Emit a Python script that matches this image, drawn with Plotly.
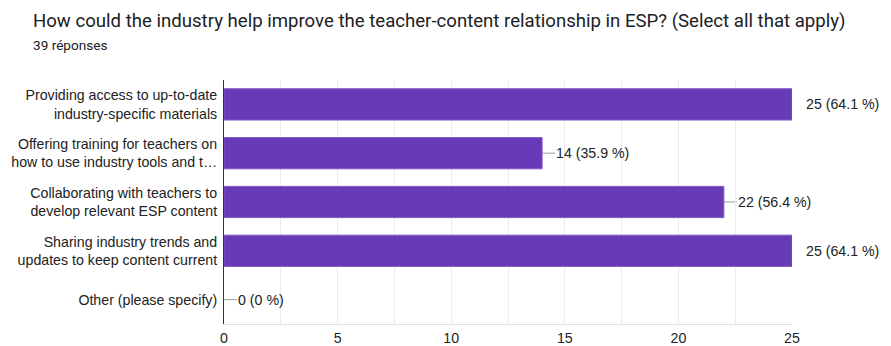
import plotly.graph_objects as go

title = "How could the industry help improve the teacher-content relationship in ESP? (Select all that apply)"
subtitle = "39 réponses"
categories = [
    "Providing access to up-to-date<br>industry-specific materials",
    "Offering training for teachers on<br>how to use industry tools and t…",
    "Collaborating with teachers to<br>develop relevant ESP content",
    "Sharing industry trends and<br>updates to keep content current",
    "Other (please specify)",
]
counts = [25, 14, 22, 25, 0]
percents = ["64.1", "35.9", "56.4", "64.1", "0"]
x_ticks = [0, 5, 10, 15, 20, 25]

W, H = 891, 346
L, R, T, B = 224, 99, 80, 22
pw, ph = W - L - R, H - T - B

FONT = "Liberation Sans, Arial, sans-serif"
positions = list(range(len(categories)))

fig = go.Figure(go.Bar(
    x=counts, y=positions, orientation="h", width=0.64,
    marker=dict(color="#673ab7",
                line=dict(color="#7e57c2", width=[1 if c > 0 else 0 for c in counts])),
    hoverinfo="skip",
))

# leader lines and value labels
for pos, c, p in zip(positions, counts, percents):
    fig.add_shape(type="line", xref="x", yref="y", xsizemode="pixel",
                  xanchor=c, x0=0, x1=13, y0=pos, y1=pos,
                  line=dict(color="#9e9e9e", width=1), layer="below")
    fig.add_annotation(x=c, y=pos, xref="x", yref="y", text=f"{c} ({p} %)",
                       showarrow=False, xanchor="left", xshift=12,
                       font=dict(family=FONT, size=14.2, color="#222222"))

fig.add_annotation(xref="paper", yref="paper", x=(31 - L) / pw, y=1 + (T - 21) / ph,
                   text=title, showarrow=False, xanchor="left", yanchor="middle",
                   font=dict(family="Roboto, sans-serif", size=18.6, color="#202124"))
fig.add_annotation(xref="paper", yref="paper", x=(31 - L) / pw, y=1 + (T - 45) / ph,
                   text=subtitle, showarrow=False, xanchor="left", yanchor="middle",
                   font=dict(family="Roboto, sans-serif", size=13.6, color="#202124"))

fig.update_layout(
    width=W, height=H, margin=dict(l=L, r=R, t=T, b=B),
    paper_bgcolor="white", plot_bgcolor="white", showlegend=False,
    xaxis=dict(range=[0, 25], tickvals=x_ticks, ticktext=[str(v) for v in x_ticks],
               showgrid=True, gridcolor="#ebebeb", gridwidth=1,
               minor=dict(dtick=2.5, showgrid=True, gridcolor="#ebebeb"),
               showline=True, linecolor="#e0e0e0", zeroline=False,
               tickfont=dict(family=FONT, size=14.2, color="#222222"),
               ticks="", ticklen=0, ticklabelstandoff=1, automargin=False, fixedrange=True),
    yaxis=dict(range=[4.5, -0.5], tickvals=positions, ticktext=categories,
               showgrid=False, zeroline=False, showline=True, linecolor="#333333",
               linewidth=1, ticks="", ticklabelstandoff=3, automargin=False,
               tickfont=dict(family=FONT, size=14.2, color="#222222"), fixedrange=True),
)

fig.write_html("out.html")
